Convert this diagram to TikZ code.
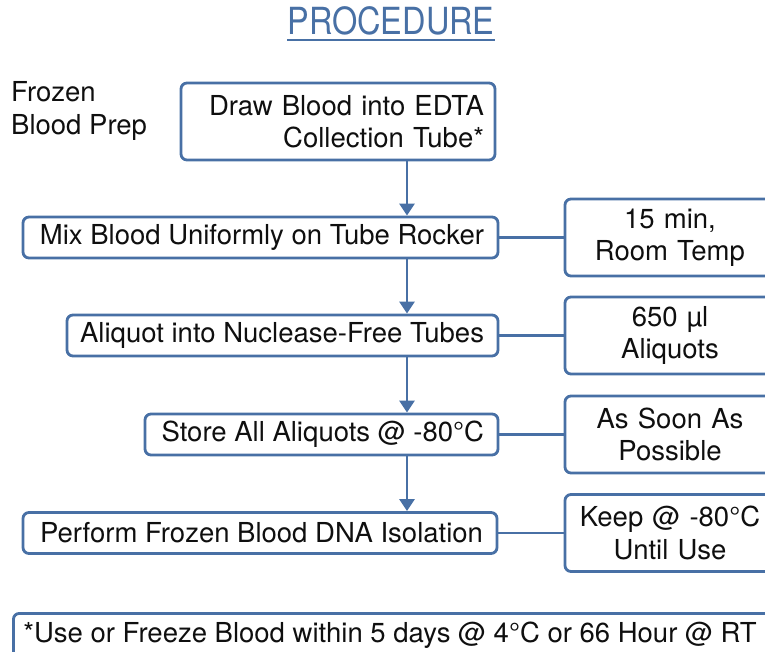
\documentclass[tikz,border=0pt]{standalone}
\usepackage{fontspec}
\setmainfont{TeX Gyre Heros}
\usetikzlibrary{arrows.meta}
\definecolor{bl}{RGB}{72,112,165}
\definecolor{ink}{RGB}{15,15,15}
\newcommand{\rtext}[2]{\makebox[#1][r]{#2}}
\begin{document}
\begin{tikzpicture}[x=1pt,y=-1pt,
  txt/.style={font=\fontsize{27.5}{32.5}\selectfont, text=ink},
  box/.style={txt, draw=bl, line width=2.8pt, rounded corners=6pt, fill=white, inner ysep=0pt},
  stepbox/.style={box, inner xsep=14pt, minimum height=41pt},
  sidebox/.style={box, inner xsep=7.5pt, text width=195pt, minimum height=77pt, align=center},
  arr/.style={draw=bl, line width=2.8pt, -{Triangle[width=15pt,length=12pt]}},
  ln/.style={draw=bl, line width=2.8pt}]
\useasboundingbox (0,0) rectangle (765,652);
\clip (0,0) rectangle (765,652);

\node[font=\fontsize{32.5}{36}\selectfont, text=bl, inner sep=0pt, anchor=base] (title) at (391,35) {\scalebox{1}[1.15]{PROCEDURE}};
\draw[bl, line width=1.8pt] ([yshift=-5pt]title.base west) -- ([yshift=-5pt]title.base east);

\node[txt, align=left, anchor=west, inner sep=0pt] (side) at (11,111) {Frozen\\Blood Prep};

\node[box, inner xsep=11pt, text width=292pt, align=right, minimum height=77pt] (b1) at (338,121.5) {Draw Blood into EDTA\\Collection Tube*};
\node[stepbox] (b2) at (260.5,237.5) {\rtext{447pt}{Mix Blood Uniformly on Tube Rocker}};
\node[stepbox] (b3) at (282.5,335.5) {\rtext{403pt}{Aliquot into Nuclease-Free Tubes}};
\node[stepbox] (b4) at (321.5,434.5) {\rtext{325pt}{Store All Aliquots @ -80°C}};
\node[stepbox] (b5) at (260,533) {\rtext{446pt}{Perform Frozen Blood DNA Isolation}};

\node[sidebox] (r1) at (670,237.5) {15 min,\\Room Temp};
\node[sidebox] (r2) at (670,335.5) {650 µl\\Aliquots};
\node[sidebox] (r3) at (670,434.5) {As Soon As\\Possible};
\node[sidebox] (r4) at (670,533) {Keep @ -80°C\\Until Use};

\node[box, anchor=north west, inner xsep=10pt, minimum height=44pt] (note) at (12,612) {\makebox[760pt][l]{*Use or Freeze Blood within 5 days @ 4°C or 66 Hour @ RT}};

\coordinate (ax) at (407,0);
\draw[arr] (b1.south -| ax) -- (b2.north -| ax);
\draw[arr] (b2.south -| ax) -- (b3.north -| ax);
\draw[arr] (b3.south -| ax) -- (b4.north -| ax);
\draw[arr] (b4.south -| ax) -- (b5.north -| ax);

\draw[ln] (b2.east) -- (r1.west);
\draw[ln] (b3.east) -- (r2.west);
\draw[ln] (b4.east) -- (r3.west);
\draw[ln] (b5.east) -- (r4.west);
\end{tikzpicture}
\end{document}
